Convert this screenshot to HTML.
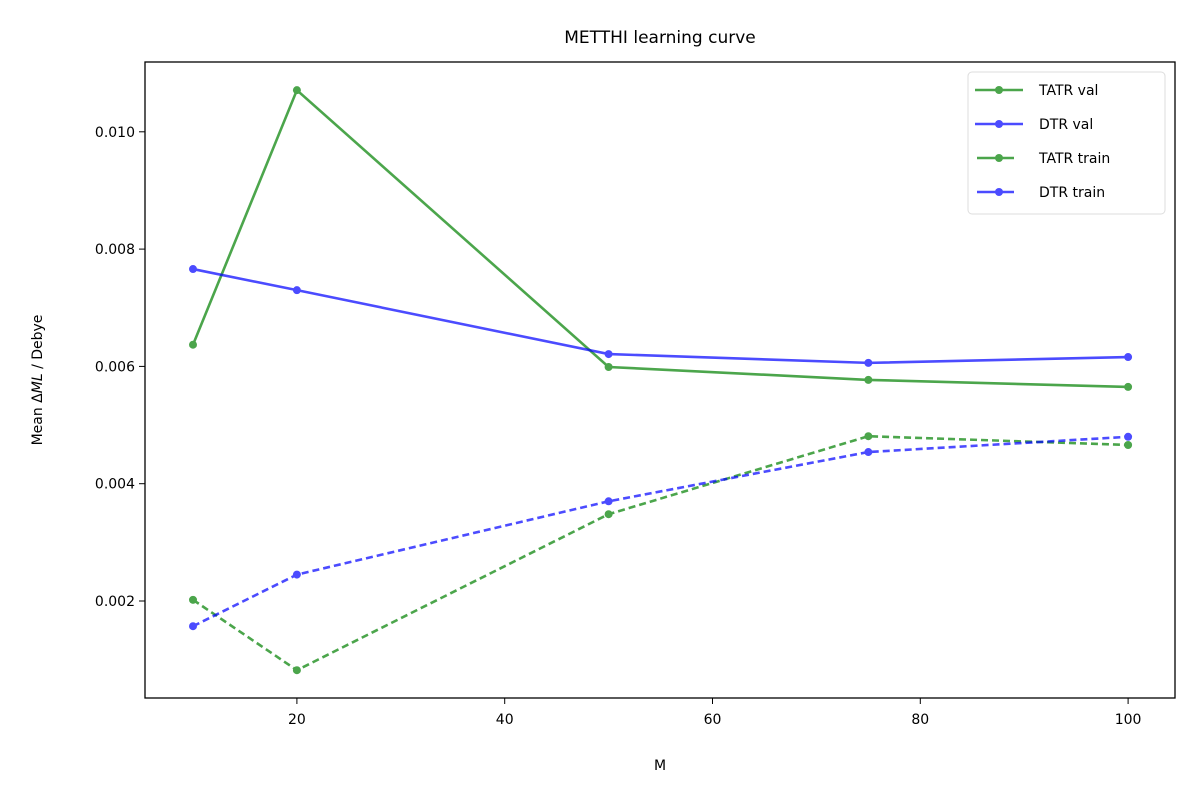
<!DOCTYPE html>
<html><head><meta charset="utf-8"><style>
body{margin:0;background:#fff;}
svg text{font-family:"DejaVu Sans","Liberation Sans",sans-serif;fill:#000;}
</style></head><body>
<svg id="chart" width="1200" height="800">
<text x="660" y="43" font-size="17" text-anchor="middle">METTHI learning curve</text>
<g id="axes"></g>
<g id="series"></g>
<rect x="145" y="62" width="1030" height="636" fill="none" stroke="#000" stroke-width="1.3"/>
<text x="660" y="770" font-size="14" text-anchor="middle">M</text>
<text transform="translate(42,380) rotate(-90)" font-size="14" text-anchor="middle">Mean Δ<tspan font-style="italic">ML</tspan> / Debye</text>
<g id="legend">
<rect x="968" y="72" width="197" height="142" rx="4" fill="#fff" stroke="#ddd"/>
</g>
</svg>
<script>
const mValues=[10,20,50,75,100];
const tatrVal=[0.00637,0.01071,0.00599,0.00577,0.00565];
const dtrVal=[0.00766,0.0073,0.00621,0.00606,0.00616];
const tatrTrain=[0.00202,0.00082,0.00348,0.00481,0.00466];
const dtrTrain=[0.00157,0.00245,0.0037,0.00454,0.0048];
const xTicks=[20,40,60,80,100];
const yTicks=[0.002,0.004,0.006,0.008,0.010];
const seriesNames=["TATR val","DTR val","TATR train","DTR train"];

const NS="http://www.w3.org/2000/svg";
function xs(v){return 193+(v-10)*10.39;}
function ys(v){return 718.3-v*58650;}
function mk(tag,attrs,parent){const e=document.createElementNS(NS,tag);for(const k in attrs)e.setAttribute(k,attrs[k]);parent.appendChild(e);return e;}
const axes=document.getElementById('axes');
xTicks.forEach(t=>{
  const l=mk('line',{x1:xs(t),x2:xs(t),y1:698,y2:704,stroke:'#000'},axes);
  
  
  const tx=mk('text',{x:xs(t),y:724,'font-size':14,'text-anchor':'middle'},axes);
  tx.textContent=t;
  
  
});
yTicks.forEach(t=>{
  const l=mk('line',{x1:139,x2:145,y1:ys(t),y2:ys(t),stroke:'#000'},axes);
  
  
  const tx=mk('text',{x:135,y:ys(t)+5,'font-size':14,'text-anchor':'end'},axes);
  tx.textContent=t.toFixed(3);
  
  
});
const sg=document.getElementById('series');
const defs=[[tatrVal,'green',null,'tatr-val'],[dtrVal,'blue',null,'dtr-val'],[tatrTrain,'green','7,4','tatr-train'],[dtrTrain,'blue','7,4','dtr-train']];
defs.forEach(([d,c,dash,name])=>{
  const g=mk('g',{opacity:0.7},sg);
  
  
  const pts=d.map((v,i)=>xs(mValues[i])+','+ys(v)).join(' ');
  const pl=mk('polyline',{points:pts,fill:'none',stroke:c,'stroke-width':2.6},g);
  if(dash)pl.setAttribute('stroke-dasharray',dash);
  
  
  d.forEach((v,i)=>{
    const p=mk('circle',{cx:xs(mValues[i]),cy:ys(v),r:4,fill:c},g);
    
    
  });
});
const lg=document.getElementById('legend');
defs.forEach(([d,c,dash,name],i)=>{
  const y=90+i*34;
  const g=mk('g',{},lg);
  
  
  const gg=mk('g',{opacity:0.7},g);
  const x1=dash?977:975,x2=dash?1014:1023;
  mk('line',{x1:x1,x2:x2,y1:y,y2:y,stroke:c,'stroke-width':2.6},gg);
  mk('circle',{cx:999,cy:y,r:4,fill:c},gg);
  const t=mk('text',{x:1039,y:y+5,'font-size':14},g);
  t.textContent=seriesNames[i];
});
</script>
</body></html>
